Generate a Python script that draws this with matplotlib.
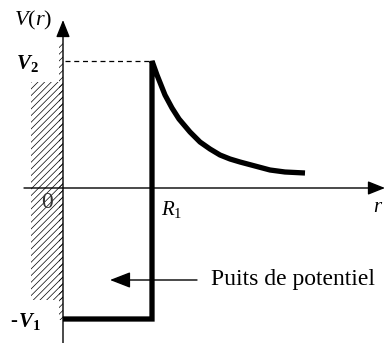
import matplotlib
matplotlib.use("Agg")
import matplotlib.pyplot as plt
from matplotlib.patches import Rectangle

plt.rcParams['font.family'] = 'Liberation Serif'
plt.rcParams['mathtext.fontset'] = 'custom'
plt.rcParams['mathtext.rm'] = 'Liberation Serif'
plt.rcParams['mathtext.it'] = 'Liberation Serif:italic'
plt.rcParams['mathtext.bf'] = 'Liberation Serif:bold'
plt.rcParams['mathtext.bfit'] = 'Liberation Serif:bold:italic'
plt.rcParams['hatch.linewidth'] = 0.5
plt.rcParams['hatch.color'] = '#555555'

# schematic values (arbitrary units)
R1 = 89
V2 = 127
V1 = 131
well_r = [0, R1, R1]
well_V = [-V1, -V1, V2]
tail_r = [89, 94, 102, 109, 116, 127, 137, 147, 157, 167, 177, 192, 207, 222, 242]
tail_V = [127, 113, 93, 80, 69, 56, 46, 39, 33, 29, 26, 22, 18, 16, 15]

fig = plt.figure(figsize=(3.85, 3.43), dpi=100)
ax = fig.add_axes([0, 0, 1, 1])
ax.set_xlim(-63, 322)
ax.set_ylim(-155, 188)
ax.axis('off')

# hard wall (hatched)
ax.add_patch(Rectangle((-32, -112), 32, 218, hatch='/////', fill=False, lw=0, zorder=1))
ax.add_patch(Rectangle((-4, -132), 4, 277, hatch='/////', fill=False, lw=0, zorder=1))

# axes with arrows
arrow_style = dict(arrowstyle='-|>,head_length=0.75,head_width=0.3', lw=1, color='black',
                   shrinkA=0, shrinkB=0, mutation_scale=14)
ax.annotate('', xy=(322, 0), xytext=(-39, 0), arrowprops=arrow_style, zorder=2)
ax.annotate('', xy=(0, 168), xytext=(0, -155), arrowprops=arrow_style, zorder=2)

# dashed level V2
ax.plot([2, R1], [V2, V2], color='black', lw=0.9, dashes=(4, 3), zorder=2)

# potential
ax.plot(well_r + tail_r[1:], well_V + tail_V[1:], color='black', lw=3.8,
        solid_joinstyle='miter', solid_capstyle='butt', zorder=3)

# labels
ax.text(-30, 168, r'$V(r)$', fontsize=16, ha='center', va='center')
ax.text(-36, 125, r'$\mathbfit{V}_{\mathbf{2}}$', fontsize=15, ha='center', va='center')
ax.text(-16, -15, r'$\mathit{0}$', fontsize=17, ha='center', va='center', color='#333333')
ax.text(98, -21, r'$R_1$', fontsize=15, ha='left', va='center')
ax.text(315, -20, r'$r$', fontsize=15, ha='center', va='center')
ax.text(-53, -133, '-', fontsize=15, fontweight='bold', ha='left', va='center')
ax.text(-45, -133, r'$\mathbfit{V}_{\mathbf{1}}$', fontsize=15, ha='left', va='center')
ax.text(148, -92, 'Puits de potentiel', fontsize=17, ha='left', va='center')
ax.annotate('', xy=(47, -92), xytext=(134, -92),
            arrowprops=dict(arrowstyle='-|>,head_length=0.9,head_width=0.35', lw=1, color='black',
                            shrinkA=0, shrinkB=0, mutation_scale=14), zorder=2)

fig.savefig('out.png', dpi=100)
